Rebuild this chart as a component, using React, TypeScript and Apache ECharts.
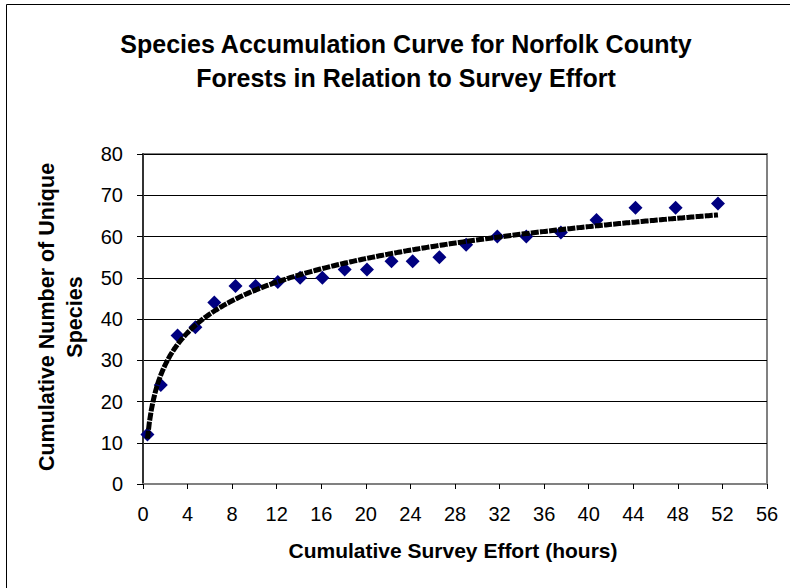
import React, { useEffect, useRef } from "react";
import * as echarts from "echarts";

const titleLines = ["Species Accumulation Curve for Norfolk County", "Forests in Relation to Survey Effort"];
const xAxisTitle = "Cumulative Survey Effort (hours)";
const yAxisTitleLines = ["Cumulative Number of Unique", "Species"];

// Cumulative survey effort (hours) for each survey
const effortHours = [0.4, 1.6, 3.1, 4.7, 6.4, 8.3, 10.1, 12.1, 14.1, 16.1, 18.1, 20.1, 22.3, 24.2, 26.6, 29.0, 31.8, 34.4, 37.5, 40.7, 44.2, 47.8, 51.6];
// Cumulative number of unique species
const uniqueSpecies = [12, 24, 36, 38, 44, 48, 48, 49, 50, 50, 52, 52, 54, 54, 55, 58, 60, 60, 61, 64, 67, 67, 68];

const xTicks = { min: 0, max: 56, interval: 4 };
const yTicks = { min: 0, max: 80, interval: 10 };

// Logarithmic trendline (least squares on ln(x)), like a spreadsheet trendline
function logTrend(xs: number[], ys: number[], samples: number) {
  const n = xs.length;
  const L = xs.map((x) => Math.log(x));
  const mL = L.reduce((a, b) => a + b, 0) / n;
  const mY = ys.reduce((a, b) => a + b, 0) / n;
  let sxy = 0, sxx = 0;
  for (let i = 0; i < n; i++) {
    sxy += (L[i] - mL) * (ys[i] - mY);
    sxx += (L[i] - mL) * (L[i] - mL);
  }
  const a = sxy / sxx;
  const b = mY - a * mL;
  const x0 = xs[0], x1 = xs[n - 1];
  const pts: number[][] = [];
  for (let i = 0; i <= samples; i++) {
    const x = x0 + ((x1 - x0) * i) / samples;
    pts.push([x, a * Math.log(x) + b]);
  }
  return pts;
}

export default function App() {
  const ref = useRef<HTMLDivElement>(null);
  useEffect(() => {
    if (!ref.current) return;
    const chart = echarts.init(ref.current, null, { renderer: "svg" });
    const font = "'Liberation Sans', Arial, sans-serif";
    const scatterData = effortHours.map((x, i) => [x, uniqueSpecies[i]]);
    chart.setOption({
      animation: false,
      backgroundColor: "#ffffff",
      grid: {
        left: 143,
        top: 154,
        right: 23,
        bottom: 104,
        show: true,
        borderColor: "#808080",
        borderWidth: 2,
        backgroundColor: "transparent",
      },
      xAxis: {
        type: "value",
        min: xTicks.min,
        max: xTicks.max,
        interval: xTicks.interval,
        axisLine: { show: true, onZero: false, lineStyle: { color: "#808080", width: 2 } },
        axisTick: { show: true, inside: false, length: 5, lineStyle: { color: "#000", width: 1 } },
        axisLabel: { color: "#000", fontSize: 20, fontFamily: font, margin: 20 },
        splitLine: { show: false },
      },
      yAxis: {
        type: "value",
        min: yTicks.min,
        max: yTicks.max,
        interval: yTicks.interval,
        axisLine: { show: true, onZero: false, lineStyle: { color: "#333333", width: 2 } },
        axisTick: { show: true, inside: false, length: 6, lineStyle: { color: "#000", width: 1 } },
        axisLabel: { color: "#000", fontSize: 20, fontFamily: font, margin: 20 },
        splitLine: { show: true, lineStyle: { color: "#000", width: 1 } },
      },
      series: [
        {
          type: "scatter",
          data: scatterData,
          symbol: "diamond",
          symbolSize: 14,
          itemStyle: { color: "#000080", opacity: 1 },
          z: 2,
        },
        {
          type: "line",
          data: logTrend(effortHours, uniqueSpecies, 300),
          showSymbol: false,
          symbol: "none",
          smooth: false,
          lineStyle: { color: "#000", width: 5, type: [8, 1.2], cap: "butt" },
          z: 3,
        },
      ],
      graphic: [
        {
          type: "rect",
          shape: { x: 6.5, y: 4.5, width: 900, height: 700 },
          style: { fill: "none", stroke: "#000", lineWidth: 1 },
          silent: true,
          z: -10,
        },
        {
          type: "text",
          x: 406,
          y: 61,
          style: {
            text: titleLines.join("\n"),
            align: "center",
            verticalAlign: "middle",
            font: `bold 25px ${font}`,
            lineHeight: 34,
            fill: "#000",
          },
        },
        {
          type: "text",
          x: 453,
          y: 550,
          style: {
            text: xAxisTitle,
            align: "center",
            verticalAlign: "middle",
            font: `bold 21px ${font}`,
            fill: "#000",
          },
        },
        {
          type: "text",
          x: 61,
          y: 317,
          rotation: Math.PI / 2,
          style: {
            text: yAxisTitleLines.join("\n"),
            align: "center",
            verticalAlign: "middle",
            font: `bold 21.5px ${font}`,
            lineHeight: 28,
            fill: "#000",
          },
        },
      ],
    });
    return () => chart.dispose();
  }, []);
  return <div ref={ref} style={{ width: 790, height: 588, position: "absolute", left: 0, top: 0 }} />;
}
